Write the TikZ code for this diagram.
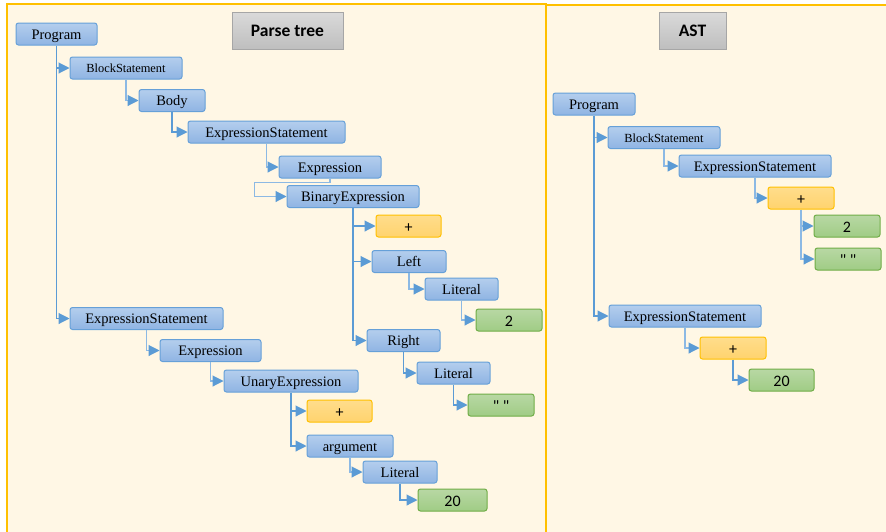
\documentclass[tikz,border=0pt]{standalone}
\usepackage{fontspec}
\setmainfont{Liberation Serif}
\newfontfamily\calfont{Carlito}
\usetikzlibrary{arrows.meta}
\definecolor{cream}{RGB}{255,247,229}
\definecolor{panelb}{RGB}{255,192,0}
\definecolor{bluetop}{RGB}{180,206,237}
\definecolor{bluebot}{RGB}{143,180,227}
\definecolor{blueline}{RGB}{102,160,216}
\definecolor{connc}{RGB}{91,155,213}
\definecolor{connlight}{RGB}{140,185,228}
\definecolor{orangetop}{RGB}{255,221,140}
\definecolor{orangebot}{RGB}{255,211,110}
\definecolor{orangeline}{RGB}{255,192,0}
\definecolor{greentop}{RGB}{184,216,164}
\definecolor{greenbot}{RGB}{160,204,133}
\definecolor{greenline}{RGB}{112,173,71}
\definecolor{graytop}{RGB}{218,218,218}
\definecolor{graybot}{RGB}{190,190,190}
\definecolor{grayline}{RGB}{166,166,166}
\tikzset{
  box/.style={rectangle, rounded corners=2.5pt, inner sep=0pt, minimum height=22pt, line width=1pt},
  bluebox/.style={box, draw=blueline, top color=bluetop, bottom color=bluebot, font=\fontsize{14.5}{16}\selectfont, text height=11pt, text depth=1pt},
  smallblue/.style={bluebox, font=\fontsize{12.4}{14}\selectfont, text height=10pt, text depth=0.6pt},
  orangebox/.style={box, draw=orangeline, top color=orangetop, bottom color=orangebot, font=\calfont\fontsize{16}{18}\selectfont, text height=12.5pt, text depth=0pt},
  greenbox/.style={box, draw=greenline, top color=greentop, bottom color=greenbot, font=\calfont\fontsize{16}{18}\selectfont, text height=12.5pt, text depth=0pt},
  titlebox/.style={rectangle, inner sep=0pt, minimum height=37pt, line width=1pt, draw=grayline, top color=graytop, bottom color=graybot, font=\calfont\bfseries\fontsize{17.5}{20}\selectfont, text height=11pt, text depth=0pt},
  conn/.style={draw=connc, line width=1.1pt, -{Triangle[length=11pt,width=11pt,color=connc]}},
  connl/.style={conn, draw=connlight},
  panel/.style={draw=panelb, fill=cream, line width=2pt}
}
\begin{document}
\begin{tikzpicture}[x=1pt,y=-1pt]
\useasboundingbox (0,0) rectangle (886,531);
\fill[white] (0,0) rectangle (886,531);
\clip (0,0) rectangle (886,531);
\draw[panel] (546,4.8) rectangle (900,560);
\draw[panel] (6.8,3.7) rectangle (546,560);

% titles
\node[titlebox, minimum width=111pt] (ptitle) at (287.5,30.5) {Parse tree};
\node[titlebox, minimum width=67pt] (atitle) at (692.5,30.5) {AST};

% parse tree nodes
\node[bluebox, minimum width=81pt] (prog) at (56.5,34) {Program};
\node[smallblue, minimum width=112pt] (blk) at (126,68) {BlockStatement};
\node[bluebox, minimum width=66pt] (body) at (172,100.5) {Body};
\node[bluebox, minimum width=157pt] (es1) at (266.5,132) {ExpressionStatement};
\node[bluebox, minimum width=102pt] (expr1) at (330,167) {Expression};
\node[bluebox, minimum width=132pt] (bin) at (353,196.5) {BinaryExpression};
\node[orangebox, minimum width=65pt] (plus1) at (408.5,226) {+};
\node[bluebox, minimum width=74pt] (left) at (409,261.5) {Left};
\node[bluebox, minimum width=73pt] (lit1) at (461.5,289) {Literal};
\node[greenbox, minimum width=66pt] (two) at (509,320) {2};
\node[bluebox, minimum width=73pt] (right) at (403.5,340.5) {Right};
\node[bluebox, minimum width=73pt] (lit2) at (453.5,373) {Literal};
\node[greenbox, minimum width=66pt] (quo) at (501,405) {" "};
\node[bluebox, minimum width=153pt] (es2) at (146.5,318.5) {ExpressionStatement};
\node[bluebox, minimum width=101pt] (expr2) at (210.5,350.5) {Expression};
\node[bluebox, minimum width=134pt] (una) at (291,381) {UnaryExpression};
\node[orangebox, minimum width=65pt] (plus2) at (339.5,411) {+};
\node[bluebox, minimum width=86pt] (arg) at (350,446) {argument};
\node[bluebox, minimum width=74pt] (lit3) at (400,472) {Literal};
\node[greenbox, minimum width=69pt] (twenty) at (452.5,500) {20};

% parse tree connectors
\draw[conn] (prog.south) |- (blk.west);
\draw[conn] (prog.south) |- (es2.west);
\draw[connl] (blk.south) |- (body.west);
\draw[conn] (body.south) |- (es1.west);
\draw[connl] (es1.south) |- (expr1.west);
\draw[connl] (expr1.south) -- ++(0,4) -| ([xshift=-32pt]bin.west) -- (bin.west);
\draw[conn] (bin.south) |- (plus1.west);
\draw[conn] (bin.south) |- (left.west);
\draw[conn] (bin.south) |- (right.west);
\draw[connl] (left.south) |- (lit1.west);
\draw[connl] (lit1.south) |- (two.west);
\draw[conn] (right.south) |- (lit2.west);
\draw[conn] (lit2.south) |- (quo.west);
\draw[connl] (es2.south) |- (expr2.west);
\draw[connl] (expr2.south) |- (una.west);
\draw[conn] (una.south) |- (plus2.west);
\draw[conn] (una.south) |- (arg.west);
\draw[connl] (arg.south) |- (lit3.west);
\draw[conn] (lit3.south) |- (twenty.west);

% AST nodes
\node[bluebox, minimum width=82pt] (aprog) at (594,104) {Program};
\node[smallblue, minimum width=112pt] (ablk) at (664,137.5) {BlockStatement};
\node[bluebox, minimum width=152pt] (aes1) at (755,166) {ExpressionStatement};
\node[orangebox, minimum width=66pt] (aplus1) at (801,198) {+};
\node[greenbox, minimum width=66pt] (atwo) at (847,226) {2};
\node[greenbox, minimum width=66pt] (aquo) at (848,259) {" "};
\node[bluebox, minimum width=152pt] (aes2) at (685,316) {ExpressionStatement};
\node[orangebox, minimum width=66pt] (aplus2) at (733,348) {+};
\node[greenbox, minimum width=65pt] (atwenty) at (781.5,380) {20};

% AST connectors
\draw[connl] (aprog.south) |- (ablk.west);
\draw[conn] (aprog.south) |- (aes2.west);
\draw[connl] (ablk.south) |- (aes1.west);
\draw[connl] (aes1.south) |- (aplus1.west);
\draw[connl] (aplus1.south) |- (atwo.west);
\draw[connl] (aplus1.south) |- (aquo.west);
\draw[connl] (aes2.south) |- (aplus2.west);
\draw[conn] (aplus2.south) |- (atwenty.west);
\end{tikzpicture}
\end{document}
